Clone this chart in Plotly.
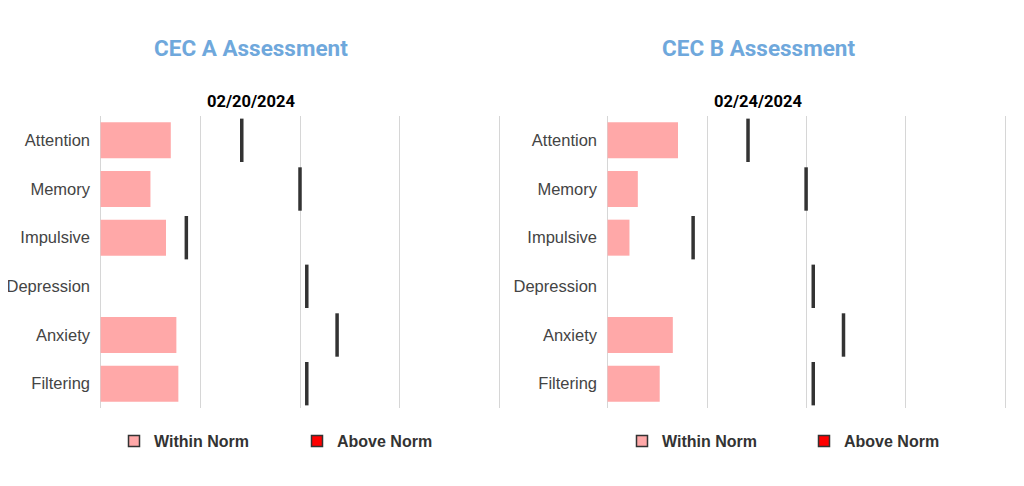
import plotly.graph_objects as go

# page body has an 8px default margin, so the figure is drawn offset by it
OFF = 8
W, H = 1024 - OFF, 486 - OFF

categories = ["Attention", "Memory", "Impulsive", "Depression", "Anxiety", "Filtering"]

# scores (within norm) per assessment
cec_a_scores = [17.6, 12.5, 16.4, 0, 19.0, 19.5]
cec_b_scores = [17.7, 7.6, 5.5, 0, 16.4, 13.1]

# norm threshold markers
cec_a_norms = [35.4, 50.0, 21.5, 51.7, 59.3, 51.7]
cec_b_norms = [35.3, 49.9, 21.5, 51.7, 59.3, 51.7]

panel_titles = ["CEC A Assessment", "CEC B Assessment"]
panel_dates = ["02/20/2024", "02/24/2024"]
legend_labels = ["Within Norm", "Above Norm"]

COLORS = {
    "within": "#FFA8A8",
    "above": "#FF0000",
    "marker": "#333333",
    "title": "#6FA8DC",
    "text": "#444444",
    "grid": "#D6D6D6",
}


def px_x(p):
    return (p - OFF) / W


def px_y(p):
    return 1 - (p - OFF) / H


fig = go.Figure()

panels = [
    dict(scores=cec_a_scores, norms=cec_a_norms, xa="x", ya="y",
         dom=(99, 501), center=251, legends=[("legend", 114), ("legend2", 297)]),
    dict(scores=cec_b_scores, norms=cec_b_norms, xa="x2", ya="y2",
         dom=(606, 1007), center=758, legends=[("legend3", 622), ("legend4", 804)]),
]

for i, p in enumerate(panels):
    fig.add_trace(go.Bar(
        x=p["scores"], y=categories, orientation="h",
        marker=dict(color=COLORS["within"], line=dict(width=0)),
        width=0.74, xaxis=p["xa"], yaxis=p["ya"], showlegend=False,
        hoverinfo="x+y",
    ))
    fig.add_trace(go.Scatter(
        x=p["norms"], y=categories, mode="markers",
        marker=dict(symbol="line-ns", size=31,
                    line=dict(width=3.5, color=COLORS["marker"])),
        xaxis=p["xa"], yaxis=p["ya"], showlegend=False,
    ))
    # legend entries, one legend box each so they can be placed freely
    for (leg, lx), lab, col in zip(p["legends"], legend_labels,
                                   [COLORS["within"], COLORS["above"]]):
        fig.add_trace(go.Scatter(
            x=[None], y=[None], mode="markers", name=lab,
            marker=dict(symbol="square", size=11, color=col,
                        line=dict(width=1.5, color="#333333")),
            xaxis=p["xa"], yaxis=p["ya"], legend=leg,
        ))
        fig.update_layout({leg: dict(
            x=px_x(lx), y=px_y(441), xanchor="left", yanchor="middle",
            itemwidth=30, borderwidth=0, bgcolor="rgba(0,0,0,0)",
            font=dict(family="Liberation Sans, Arial", size=16,
                      color="#333333", weight="bold"),
        )})

    xkey = "xaxis" if i == 0 else "xaxis2"
    ykey = "yaxis" if i == 0 else "yaxis2"
    fig.update_layout({
        xkey: dict(domain=[px_x(p["dom"][0]), px_x(p["dom"][1])],
                   range=[-0.4, 100.4], tickvals=[0, 25, 50, 75, 100],
                   showticklabels=False, showgrid=True,
                   gridcolor=COLORS["grid"], gridwidth=1.2,
                   zeroline=False, showline=False, fixedrange=True,
                   automargin=False,
                   anchor="y" if i == 0 else "y2"),
        ykey: dict(domain=[px_y(408), px_y(116)],
                   categoryorder="array", categoryarray=categories,
                   range=[len(categories) - 0.5, -0.5],
                   showgrid=False, zeroline=False, fixedrange=True,
                   ticks="", ticklabelstandoff=8, automargin=False,
                   tickfont=dict(family="Liberation Sans, Arial", size=16.5,
                                 color=COLORS["text"]),
                   anchor="x" if i == 0 else "x2"),
    })

    fig.add_annotation(
        text=f"<b>{panel_titles[i]}</b>", x=px_x(p["center"]), y=px_y(48),
        xref="paper", yref="paper", showarrow=False,
        xanchor="center", yanchor="middle",
        font=dict(family="Roboto", size=22.5, color=COLORS["title"]),
    )
    fig.add_annotation(
        text=f"<b>{panel_dates[i]}</b>", x=px_x(p["center"]), y=px_y(101),
        xref="paper", yref="paper", showarrow=False,
        xanchor="center", yanchor="middle",
        font=dict(family="Roboto", size=16.5, color="#000000"),
    )

fig.update_layout(
    width=W, height=H,
    margin=dict(l=0, r=0, t=0, b=0, autoexpand=False),
    paper_bgcolor="white", plot_bgcolor="white",
    showlegend=True,
)

fig.write_html("out.html", config={"displayModeBar": False})
